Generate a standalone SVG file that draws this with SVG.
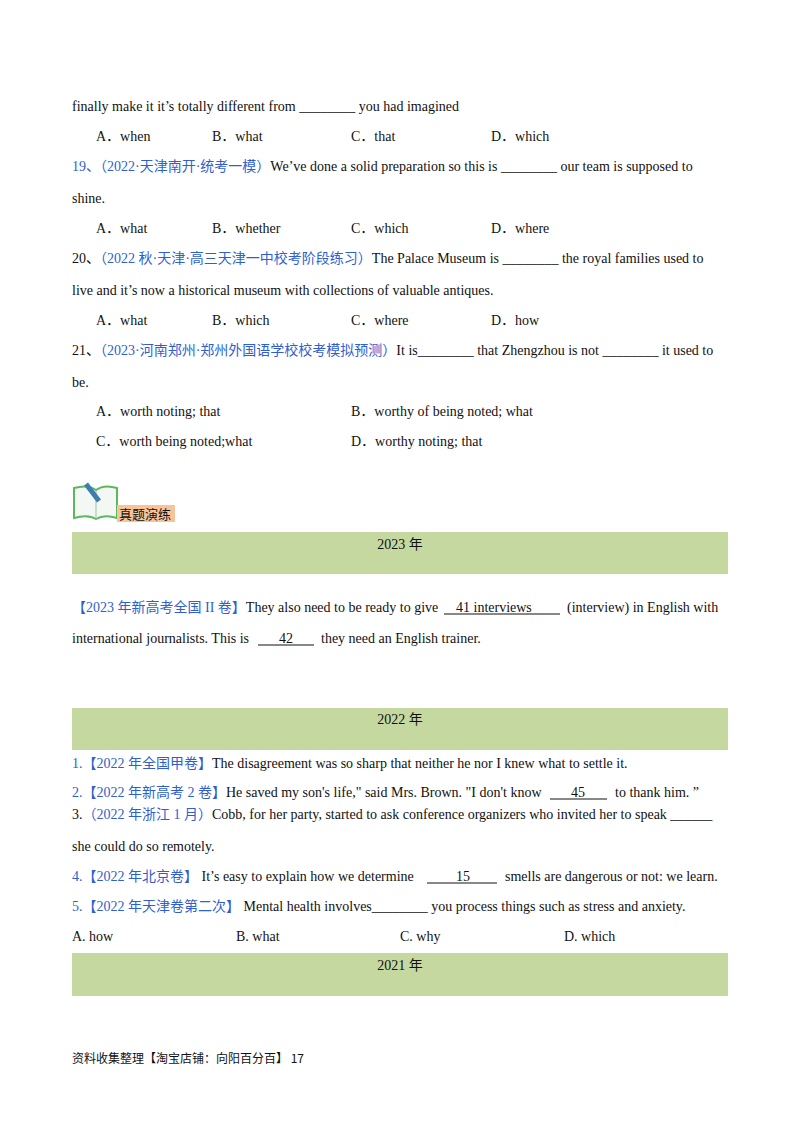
<svg xmlns="http://www.w3.org/2000/svg" width="800" height="1132" viewBox="0 0 800 1132">
<style>
text{font-family:"Liberation Serif","Noto Sans CJK SC",serif;font-size:14px;fill:#111}
.b{fill:#2f5fcf}
.bar{fill:#c5d89f}
.c{text-anchor:middle}
.u{stroke:#111;stroke-width:1}
</style>
<rect width="800" height="1132" fill="#fff"/>
<text x="72" y="111">finally make it it’s totally different from ________ you had imagined</text>
<text x="96" y="141">A．when</text><text x="212" y="141">B．what</text><text x="351" y="141">C．that</text><text x="491" y="141">D．which</text>
<text x="72" y="171"><tspan class="b">19、（2022·天津南开·统考一模）</tspan>We’ve done a solid preparation so this is ________ our team is supposed to</text>
<text x="72" y="203">shine.</text>
<text x="96" y="233">A．what</text><text x="212" y="233">B．whether</text><text x="351" y="233">C．which</text><text x="491" y="233">D．where</text>
<text x="72" y="263">20、<tspan class="b">（2022 秋·天津·高三天津一中校考阶段练习）</tspan>The Palace Museum is ________ the royal families used to</text>
<text x="72" y="295">live and it’s now a historical museum with collections of valuable antiques.</text>
<text x="96" y="325">A．what</text><text x="212" y="325">B．which</text><text x="351" y="325">C．where</text><text x="491" y="325">D．how</text>
<text x="72" y="355">21、<tspan class="b">（2023·河南郑州·郑州外国语学校校考模拟预测）</tspan>It is________ that Zhengzhou is not ________ it used to</text>
<text x="72" y="387">be.</text>
<text x="96" y="416">A．worth noting; that</text><text x="351" y="416">B．worthy of being noted; what</text>
<text x="96" y="446">C．worth being noted;what</text><text x="351" y="446">D．worthy noting; that</text>
<g id="icon">
<path d="M74 488 Q88 484 96 490 Q104 484 117 488 L117 518 Q104 514 96 519 Q88 514 74 518 Z" fill="#f4f8f4" stroke="#5cb85c" stroke-width="2"/>
<line x1="96" y1="490" x2="96" y2="519" stroke="#9bbf9b"/>
<line x1="86" y1="484" x2="99" y2="501" stroke="#3a7fb0" stroke-width="5"/>
<rect x="117" y="505" width="58" height="17" fill="#f7c49a"/>
<text x="119" y="519" style="font-size:13px">真题演练</text>
</g>
<rect class="bar" x="72" y="532" width="656" height="42"/>
<text class="c" x="400" y="549">2023 年</text>
<text x="72" y="612"><tspan class="b">【2023 年新高考全国 II 卷】</tspan>They also need to be ready to give</text>
<text x="456" y="612">41 interviews</text>
<text x="567" y="612">(interview) in English with</text>
<text x="72" y="643">international journalists. This is</text><text x="279" y="643">42</text><text x="321" y="643">they need an English trainer.</text>
<line class="u" x1="444" y1="614" x2="560" y2="614"/>
<line class="u" x1="258" y1="645" x2="314" y2="645"/>
<rect class="bar" x="72" y="708" width="656" height="42"/>
<text class="c" x="400" y="724">2022 年</text>
<text x="72" y="768"><tspan class="b">1.【2022 年全国甲卷】</tspan>The disagreement was  so sharp that neither he nor I knew what to settle it.</text>
<text x="72" y="797"><tspan class="b">2.【2022 年新高考 2 卷】</tspan>He saved my son's life," said Mrs. Brown. "I don't know</text><text x="571" y="797">45</text><text x="615" y="797">to thank him. ”</text>
<line class="u" x1="550" y1="799" x2="607" y2="799"/>
<text x="72" y="819">3.<tspan class="b">（2022 年浙江 1 月）</tspan>Cobb, for her party, started to ask conference organizers who invited her to speak ______</text>
<text x="72" y="851">she could do so remotely.</text>
<text x="72" y="881"><tspan class="b">4.【2022 年北京卷】</tspan> It’s easy to explain how we determine</text><text x="456" y="881">15</text><text x="505" y="881">smells are dangerous or not: we learn.</text>
<line class="u" x1="427" y1="883" x2="497" y2="883"/>
<text x="72" y="911"><tspan class="b">5.【2022 年天津卷第二次】</tspan> Mental health involves________ you process things such as stress and anxiety.</text>
<text x="72" y="941">A. how</text><text x="236" y="941">B. what</text><text x="400" y="941">C. why</text><text x="564" y="941">D. which</text>
<rect class="bar" x="72" y="953" width="656" height="43"/>
<text class="c" x="400" y="970">2021 年</text>
<text x="72" y="1063" style="font-family:'Noto Sans CJK SC',sans-serif;font-size:12px">资料收集整理【淘宝店铺：向阳百分百】  17</text>
</svg>
